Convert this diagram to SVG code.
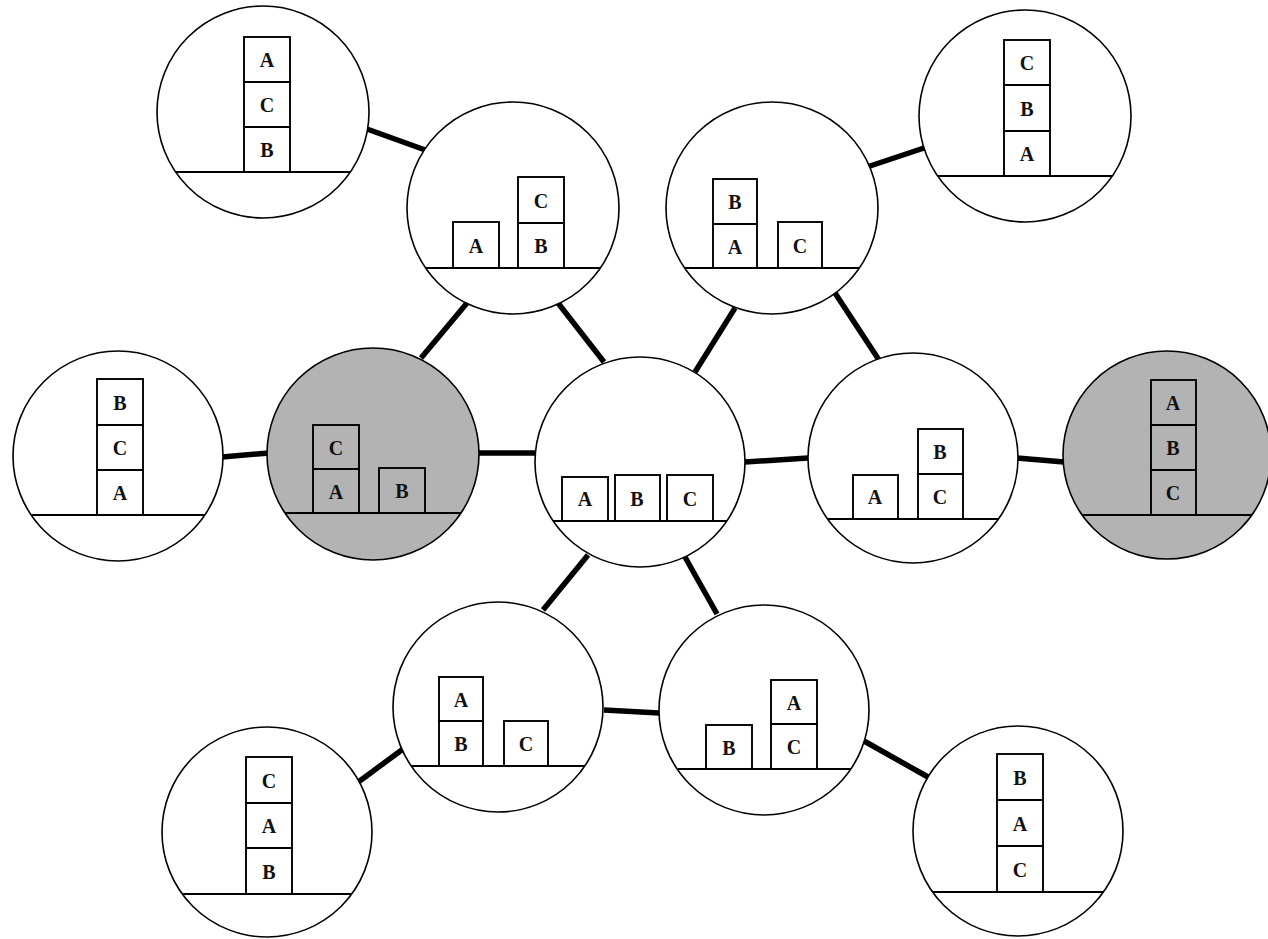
<svg xmlns="http://www.w3.org/2000/svg" width="1268" height="939" viewBox="0 0 1268 939">
  <style>
    .state { fill: #ffffff; stroke: #000000; stroke-width: 1.6; }
    .goal { fill: #b3b3b3; stroke: #000000; stroke-width: 1.6; }
    .ground { stroke: #000000; stroke-width: 1.8; fill: none; }
    .block { fill: none; stroke: #000000; stroke-width: 1.9; }
    .edge { stroke: #000000; stroke-width: 5.5; stroke-linecap: butt; fill: none; }
    .lbl { font-family: "Liberation Serif", "Times New Roman", serif; font-weight: bold; font-size: 20px; text-anchor: middle; fill: #111111; }
  </style>

  <!-- moves between block configurations -->
  <g id="connectors">
    <line class="edge" x1="367" y1="129" x2="428" y2="151"/>
    <line class="edge" x1="867" y1="167" x2="924" y2="148"/>
    <line class="edge" x1="467" y1="303" x2="421" y2="358"/>
    <line class="edge" x1="558" y1="303" x2="604" y2="362"/>
    <line class="edge" x1="735" y1="308" x2="695" y2="372"/>
    <line class="edge" x1="835" y1="293" x2="879" y2="360"/>
    <line class="edge" x1="222" y1="457" x2="269" y2="453"/>
    <line class="edge" x1="479" y1="453" x2="535" y2="453"/>
    <line class="edge" x1="745" y1="462" x2="808" y2="458"/>
    <line class="edge" x1="1017" y1="458" x2="1064" y2="462"/>
    <line class="edge" x1="588" y1="555" x2="543" y2="610"/>
    <line class="edge" x1="685" y1="557" x2="717" y2="614"/>
    <line class="edge" x1="604" y1="710" x2="659" y2="713"/>
    <line class="edge" x1="403" y1="749" x2="357" y2="783"/>
    <line class="edge" x1="864" y1="741" x2="928" y2="777"/>
  </g>

  <!-- top-left: A on C on B -->
  <g id="state-ACB">
    <circle class="state" cx="263" cy="112" r="106"/>
    <line class="ground" x1="176" y1="172" x2="350" y2="172"/>
    <rect class="block" x="244" y="37" width="46" height="45"/>
    <rect class="block" x="244" y="82" width="46" height="45"/>
    <rect class="block" x="244" y="127" width="46" height="45"/>
    <text class="lbl" x="267" y="67">A</text>
    <text class="lbl" x="267" y="112">C</text>
    <text class="lbl" x="267" y="157">B</text>
  </g>

  <!-- A ; C on B -->
  <g id="state-A-CB">
    <circle class="state" cx="513" cy="208" r="106"/>
    <line class="ground" x1="426" y1="268" x2="600" y2="268"/>
    <rect class="block" x="453" y="222" width="46" height="46"/>
    <rect class="block" x="518" y="177" width="46" height="46"/>
    <rect class="block" x="518" y="223" width="46" height="45"/>
    <text class="lbl" x="476" y="253">A</text>
    <text class="lbl" x="541" y="208">C</text>
    <text class="lbl" x="541" y="253">B</text>
  </g>

  <!-- B on A ; C -->
  <g id="state-BA-C">
    <circle class="state" cx="772" cy="208" r="106"/>
    <line class="ground" x1="685" y1="268" x2="859" y2="268"/>
    <rect class="block" x="713" y="179" width="44" height="45"/>
    <rect class="block" x="713" y="224" width="44" height="44"/>
    <rect class="block" x="778" y="222" width="44" height="46"/>
    <text class="lbl" x="735" y="209">B</text>
    <text class="lbl" x="735" y="254">A</text>
    <text class="lbl" x="800" y="253">C</text>
  </g>

  <!-- top-right: C on B on A -->
  <g id="state-CBA">
    <circle class="state" cx="1025" cy="116" r="106"/>
    <line class="ground" x1="938" y1="176" x2="1112" y2="176"/>
    <rect class="block" x="1004" y="40" width="46" height="45"/>
    <rect class="block" x="1004" y="85" width="46" height="46"/>
    <rect class="block" x="1004" y="131" width="46" height="45"/>
    <text class="lbl" x="1027" y="70">C</text>
    <text class="lbl" x="1027" y="116">B</text>
    <text class="lbl" x="1027" y="161">A</text>
  </g>

  <!-- left: B on C on A -->
  <g id="state-BCA">
    <circle class="state" cx="118" cy="456" r="105"/>
    <line class="ground" x1="31" y1="515" x2="205" y2="515"/>
    <rect class="block" x="97" y="379" width="46" height="46"/>
    <rect class="block" x="97" y="425" width="46" height="45"/>
    <rect class="block" x="97" y="470" width="46" height="45"/>
    <text class="lbl" x="120" y="410">B</text>
    <text class="lbl" x="120" y="455">C</text>
    <text class="lbl" x="120" y="500">A</text>
  </g>

  <!-- shaded: C on A ; B -->
  <g id="state-CA-B">
    <circle class="goal" cx="373" cy="454" r="106"/>
    <line class="ground" x1="285" y1="513" x2="461" y2="513"/>
    <rect class="block" x="313" y="425" width="46" height="44"/>
    <rect class="block" x="313" y="469" width="46" height="44"/>
    <rect class="block" x="379" y="468" width="46" height="45"/>
    <text class="lbl" x="336" y="455">C</text>
    <text class="lbl" x="336" y="499">A</text>
    <text class="lbl" x="402" y="498">B</text>
  </g>

  <!-- centre: A ; B ; C all on the table -->
  <g id="state-A-B-C">
    <circle class="state" cx="640" cy="462" r="105"/>
    <line class="ground" x1="553" y1="521" x2="727" y2="521"/>
    <rect class="block" x="562" y="477" width="46" height="44"/>
    <rect class="block" x="615" y="475" width="45" height="46"/>
    <rect class="block" x="667" y="475" width="46" height="46"/>
    <text class="lbl" x="585" y="506">A</text>
    <text class="lbl" x="637" y="506">B</text>
    <text class="lbl" x="690" y="506">C</text>
  </g>

  <!-- A ; B on C -->
  <g id="state-A-BC">
    <circle class="state" cx="913" cy="458" r="105"/>
    <line class="ground" x1="828" y1="519" x2="998" y2="519"/>
    <rect class="block" x="853" y="475" width="45" height="44"/>
    <rect class="block" x="918" y="429" width="45" height="45"/>
    <rect class="block" x="918" y="474" width="45" height="45"/>
    <text class="lbl" x="875" y="504">A</text>
    <text class="lbl" x="940" y="459">B</text>
    <text class="lbl" x="940" y="504">C</text>
  </g>

  <!-- shaded right: A on B on C -->
  <g id="state-ABC">
    <circle class="goal" cx="1167" cy="455" r="104"/>
    <line class="ground" x1="1082" y1="515" x2="1252" y2="515"/>
    <rect class="block" x="1151" y="380" width="45" height="45"/>
    <rect class="block" x="1151" y="425" width="45" height="45"/>
    <rect class="block" x="1151" y="470" width="45" height="45"/>
    <text class="lbl" x="1173" y="410">A</text>
    <text class="lbl" x="1173" y="455">B</text>
    <text class="lbl" x="1173" y="500">C</text>
  </g>

  <!-- A on B ; C -->
  <g id="state-AB-C">
    <circle class="state" cx="498" cy="707" r="105"/>
    <line class="ground" x1="411" y1="766" x2="585" y2="766"/>
    <rect class="block" x="439" y="677" width="44" height="44"/>
    <rect class="block" x="439" y="721" width="44" height="45"/>
    <rect class="block" x="504" y="721" width="44" height="45"/>
    <text class="lbl" x="461" y="707">A</text>
    <text class="lbl" x="461" y="751">B</text>
    <text class="lbl" x="526" y="751">C</text>
  </g>

  <!-- B ; A on C -->
  <g id="state-B-AC">
    <circle class="state" cx="764" cy="710" r="105"/>
    <line class="ground" x1="678" y1="769" x2="851" y2="769"/>
    <rect class="block" x="706" y="725" width="46" height="44"/>
    <rect class="block" x="771" y="680" width="46" height="44"/>
    <rect class="block" x="771" y="724" width="46" height="45"/>
    <text class="lbl" x="729" y="755">B</text>
    <text class="lbl" x="794" y="710">A</text>
    <text class="lbl" x="794" y="754">C</text>
  </g>

  <!-- bottom-left: C on A on B -->
  <g id="state-CAB">
    <circle class="state" cx="267" cy="832" r="105"/>
    <line class="ground" x1="182" y1="894" x2="352" y2="894"/>
    <rect class="block" x="246" y="757" width="46" height="46"/>
    <rect class="block" x="246" y="803" width="46" height="45"/>
    <rect class="block" x="246" y="848" width="46" height="46"/>
    <text class="lbl" x="269" y="788">C</text>
    <text class="lbl" x="269" y="833">A</text>
    <text class="lbl" x="269" y="879">B</text>
  </g>

  <!-- bottom-right: B on A on C -->
  <g id="state-BAC">
    <circle class="state" cx="1018" cy="831" r="105"/>
    <line class="ground" x1="933" y1="892" x2="1103" y2="892"/>
    <rect class="block" x="997" y="754" width="46" height="46"/>
    <rect class="block" x="997" y="800" width="46" height="46"/>
    <rect class="block" x="997" y="846" width="46" height="46"/>
    <text class="lbl" x="1020" y="785">B</text>
    <text class="lbl" x="1020" y="831">A</text>
    <text class="lbl" x="1020" y="877">C</text>
  </g>
</svg>
